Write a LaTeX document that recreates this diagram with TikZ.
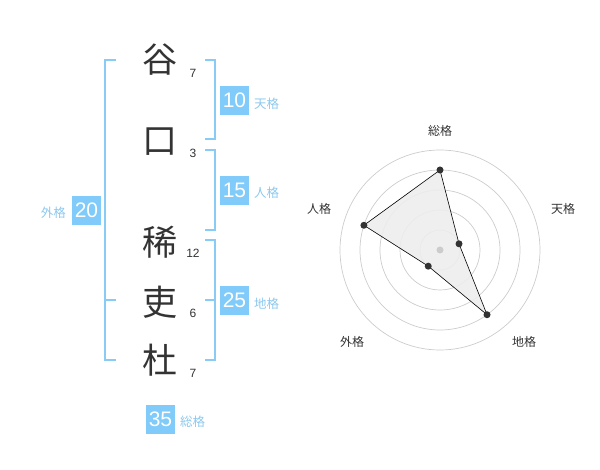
\documentclass[tikz,border=0pt]{standalone}
\usepackage{fontspec}
\setmainfont{Liberation Sans}
\newfontfamily\cjk{Noto Sans CJK JP}
\definecolor{boxblue}{HTML}{80CBFA}
\definecolor{lineblue}{HTML}{88CCF6}
\definecolor{lblblue}{HTML}{8CC8EE}
\definecolor{ink}{HTML}{333333}
\definecolor{ringgray}{HTML}{CCCCCC}
\begin{document}
\begin{tikzpicture}[x=1pt,y=-1pt,
  bigchar/.style={inner sep=0pt,text=ink,font=\cjk\fontsize{35}{35}\selectfont},
  strokes/.style={inner sep=0pt,text=ink,font=\fontsize{12}{12}\selectfont},
  numbox/.style={fill=boxblue,text=white,minimum width=29pt,minimum height=29pt,inner sep=0pt,font=\fontsize{21}{21}\selectfont},
  kaku/.style={inner sep=0pt,text=lblblue,font=\cjk\fontsize{12.5}{12.5}\selectfont},
  bracket/.style={draw=lineblue,line width=2pt},
  ring/.style={draw=ringgray,line width=0.7pt},
  rlabel/.style={inner sep=0pt,text=ink,font=\cjk\fontsize{12}{12}\selectfont},
  dot/.style={circle,fill=ink,inner sep=0pt,minimum size=7pt},
]
\useasboundingbox (0,0) rectangle (600,470);
% characters
\node[bigchar] (c1) at (160,60) {谷};
\node[bigchar] (c2) at (160,142) {口};
\node[bigchar] (c3) at (160,242) {稀};
\node[bigchar] (c4) at (160,302) {吏};
\node[bigchar] (c5) at (160,360) {杜};
\node[strokes] (s1) at (193,73) {7};
\node[strokes] (s2) at (193,153) {3};
\node[strokes] (s3) at (193,253) {12};
\node[strokes] (s4) at (193,313) {6};
\node[strokes] (s5) at (193,373) {7};
% brackets
\draw[bracket] (116,60) -- (105,60) -- (105,360) -- (116,360);
\draw[bracket] (105,300) -- (116,300);
\draw[bracket] (205,60) -- (215,60) -- (215,139) -- (205,139);
\draw[bracket] (205,150) -- (215,150) -- (215,230) -- (205,230);
\draw[bracket] (205,240) -- (215,240) -- (215,360) -- (205,360);
\draw[bracket] (205,300) -- (215,300);
% boxes
\node[numbox] (b10) at (234.5,100.5) {10};
\node[kaku,anchor=west] (k10) at (254,104) {天格};
\node[numbox] (b15) at (234.5,190.5) {15};
\node[kaku,anchor=west] (k15) at (254,193) {人格};
\node[numbox] (b20) at (86.5,210.5) {20};
\node[kaku,anchor=east] (k20) at (66,213) {外格};
\node[numbox] (b25) at (234.5,300.5) {25};
\node[kaku,anchor=west] (k25) at (254,304) {地格};
\node[numbox] (b35) at (160.5,419) {35};
\node[kaku,anchor=west] (k35) at (180,422) {総格};
% radar
\coordinate (ctr) at (440,250);
\foreach \r in {20,40,60,80,100} \draw[ring] (ctr) circle[radius=\r];
\coordinate (pS) at (440,170);
\coordinate (pT) at (459.02,243.82);
\coordinate (pC) at (487.02,314.72);
\coordinate (pG) at (428.24,266.18);
\coordinate (pJ) at (363.92,225.28);
\fill[black!7,opacity=0.9] (pS) -- (pT) -- (pC) -- (pG) -- (pJ) -- cycle;
\draw[black,line width=0.6pt] (pS) -- (pT) -- (pC) -- (pG) -- (pJ) -- cycle;
\node[circle,fill=ringgray,inner sep=0pt,minimum size=7pt] (cdot) at (ctr) {};
\foreach \p in {pS,pT,pC,pG,pJ} \node[dot] at (\p) {};
\node[rlabel] (lS) at (440,131) {総格};
\node[rlabel] (lT) at (563,209) {天格};
\node[rlabel] (lC) at (524,342) {地格};
\node[rlabel] (lG) at (352,342) {外格};
\node[rlabel] (lJ) at (319,209) {人格};
\end{tikzpicture}
\end{document}
